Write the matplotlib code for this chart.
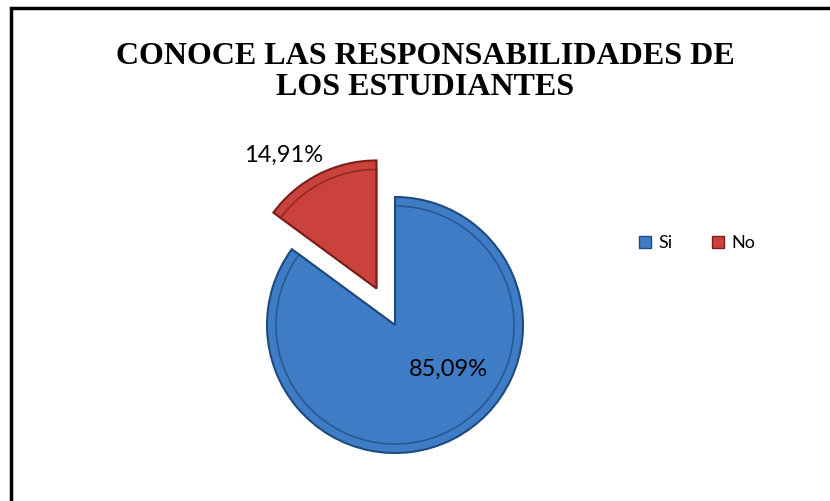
import numpy as np
import matplotlib.pyplot as plt
from matplotlib.patches import Rectangle, Patch

# datos
categorias = ['Si', 'No']
porcentajes = [85.09, 14.91]
colores = ['#3F7CC6', '#CB423D']
bordes = ['#1F4A80', '#7A1E1B']
titulo = 'CONOCE LAS RESPONSABILIDADES DE\nLOS ESTUDIANTES'

fig = plt.figure(figsize=(8.3, 5.01), dpi=100)

# marco (solo visible arriba e izquierda)
fig.patches.append(Rectangle((11 / 830, -0.1), 1.2, 1.1 - 8 / 501,
                             transform=fig.transFigure, fill=False,
                             edgecolor='black', linewidth=2.5))

# ejes para la torta: centro (395, 176) px, radio 128 px
r_px = 128
half = 200
ax = fig.add_axes([(395 - half) / 830, (176 - half) / 501, 2 * half / 830, 2 * half / 501])
lim = half / r_px

explode = (0, 0.32)
wedges, _ = ax.pie(porcentajes, colors=colores, startangle=90, counterclock=False,
                   explode=explode, radius=1,
                   wedgeprops=dict(linewidth=1.5))
for w, e in zip(wedges, bordes):
    w.set_edgecolor(e)

# linea interior (bisel)
inner, _ = ax.pie(porcentajes, startangle=90, counterclock=False,
                  explode=explode, radius=0.93,
                  wedgeprops=dict(linewidth=1.2, fill=False))
for w, e in zip(inner, bordes):
    w.set_edgecolor(e)
    w.set_alpha(0.7)

ax.set_xlim(-lim, lim)
ax.set_ylim(-lim, lim)
ax.set_aspect('equal')
ax.axis('off')

# etiquetas de datos
pos_etiquetas = [(-39.7, 0.54), (125, 1.27)]
for w, p, (ang, d) in zip(wedges, porcentajes, pos_etiquetas):
    cx, cy = w.center
    x = cx + d * np.cos(np.radians(ang))
    y = cy + d * np.sin(np.radians(ang))
    ax.text(x, y, f'{p:.2f}%'.replace('.', ','), ha='center', va='center',
            fontsize=17, family='Lato', color='black')

# titulo
fig.text(0.512, 0.857, titulo, ha='center', va='center', fontsize=23,
         fontweight='bold', family='Liberation Serif', linespacing=1.08)

# leyenda
handles = [Patch(facecolor=c, edgecolor=e, label=l)
           for c, e, l in zip(colores, bordes, categorias)]
fig.legend(handles=handles, loc='center', bbox_to_anchor=(0.84, 0.515), ncol=2,
           frameon=False, prop={'family': 'Lato', 'size': 13},
           handlelength=0.65, handleheight=0.65, handletextpad=0.4, columnspacing=2.2)

fig.savefig('out.png', dpi=100)
